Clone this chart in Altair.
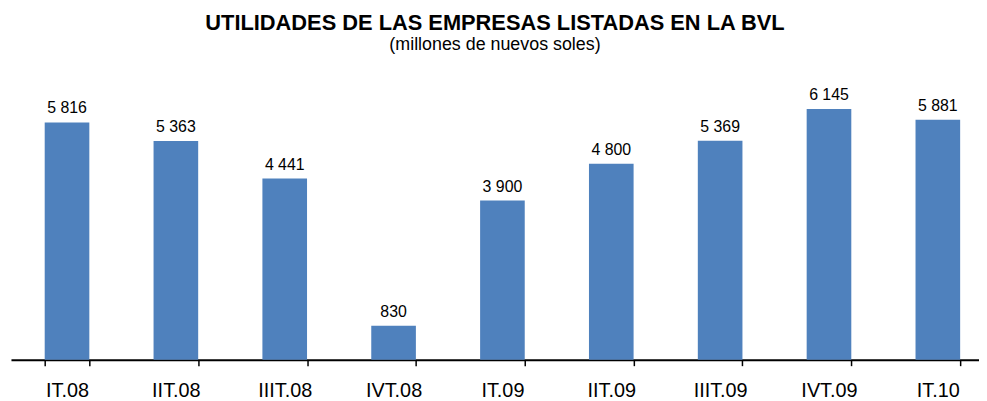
import altair as alt
import pandas as pd

categories = ["IT.08", "IIT.08", "IIIT.08", "IVT.08", "IT.09", "IIT.09", "IIIT.09", "IVT.09", "IT.10"]
values = [5816, 5363, 4441, 830, 3900, 4800, 5369, 6145, 5881]

df = pd.DataFrame({"periodo": categories, "valor": values})
df["etiqueta"] = [f"{v:,}".replace(",", " ") for v in values]

FONT = "Liberation Sans"

x = alt.X(
    "periodo:N",
    sort=categories,
    title=None,
    scale=alt.Scale(paddingInner=0.59, paddingOuter=0.2415, align=0.6415),
    axis=alt.Axis(
        labelAngle=0,
        labelFont=FONT,
        labelFontSize=20,
        labelColor="#000000",
        labelPadding=15,
        domainColor="#000000",
        domainWidth=2,
        tickColor="#000000",
        tickWidth=1.5,
        tickSize=6,
        tickBand="extent",
        grid=False,
    ),
)
y = alt.Y("valor:Q", scale=alt.Scale(domain=[0, 7000]), axis=None)

bars = alt.Chart(df).mark_bar(color="#4F81BD").encode(x=x, y=y)
labels = alt.Chart(df).mark_text(
    dy=-9, baseline="alphabetic", font=FONT, fontSize=16, color="#000000"
).encode(x=x, y=y, text="etiqueta:N")

chart = (
    (bars + labels)
    .properties(
        width=976,
        height=288,
        autosize=alt.AutoSizeParams(type="none"),
        padding={"left": 3, "top": 65, "right": 0, "bottom": 40},
        title=alt.TitleParams(
            text="UTILIDADES DE LAS EMPRESAS LISTADAS EN LA BVL",
            subtitle="(millones de nuevos  soles)",
            font=FONT,
            fontSize=22,
            fontWeight="bold",
            color="#000000",
            subtitleFont=FONT,
            subtitleFontSize=18,
            subtitleColor="#000000",
            subtitlePadding=1,
            anchor="middle",
            offset=19,
        ),
    )
    .configure_view(stroke=None)
)

chart.save("out.html", embed_options={"renderer": "svg", "actions": False})
